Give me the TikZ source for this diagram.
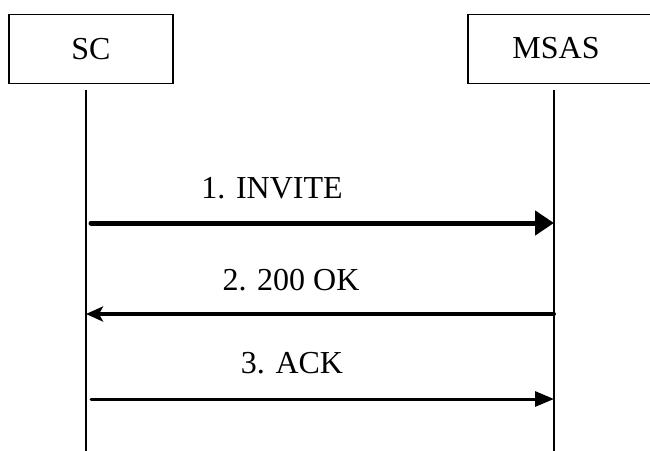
\documentclass[tikz,border=0pt]{standalone}
\usepackage{fontspec}
\setmainfont{Liberation Serif}
\usetikzlibrary{arrows.meta}
\begin{document}
\begin{tikzpicture}[x=1pt,y=-1pt,
  lbl/.style={font=\fontsize{32}{38}\selectfont, inner sep=0pt},
  entity/.style={draw, line width=1.6pt, minimum height=69pt, inner sep=0pt},
  life/.style={line width=1.3pt},
  msg/.style={line cap=round}]
\useasboundingbox (0,0) rectangle (650,450);
\clip (0,0) rectangle (650,450);
\fill[white] (0,0) rectangle (650,450);
% entities
\node[entity, lbl, minimum width=164pt, minimum height=69pt] (sc) at (91,49) {SC};
\node[entity, minimum width=200pt] (msasbox) at (568,49) {};
\node[lbl] (msas) at (556,48) {MSAS};
% lifelines
\coordinate (sctop) at (86,90);
\coordinate (scbot) at (86,452);
\coordinate (mstop) at (554,90);
\coordinate (msbot) at (554,452);
\draw[life] (sctop) -- (scbot);
\draw[life] (mstop) -- (msbot);
% messages
\coordinate (a1s) at (91,223);
\coordinate (a1e) at (554,223);
\coordinate (a2s) at (554,314);
\coordinate (a2e) at (86,314);
\coordinate (a3s) at (91,399);
\coordinate (a3e) at (554,399);
\draw[msg, line width=5pt, -{Triangle[length=19pt,width=24pt]}] (a1s) -- (a1e);
\draw[msg, line width=4pt, -{Stealth[length=17pt,width=15pt,inset=4pt]}] (a2s) -- (a2e);
\draw[msg, line width=3pt, -{Triangle[length=19pt,width=15pt]}] (a3s) -- (a3e);
% labels
\node[lbl] (l1) at (272,188) {1. INVITE};
\node[lbl] (l2) at (291,280) {2. 200 OK};
\node[lbl] (l3) at (292,363) {3. ACK};
\end{tikzpicture}
\end{document}
